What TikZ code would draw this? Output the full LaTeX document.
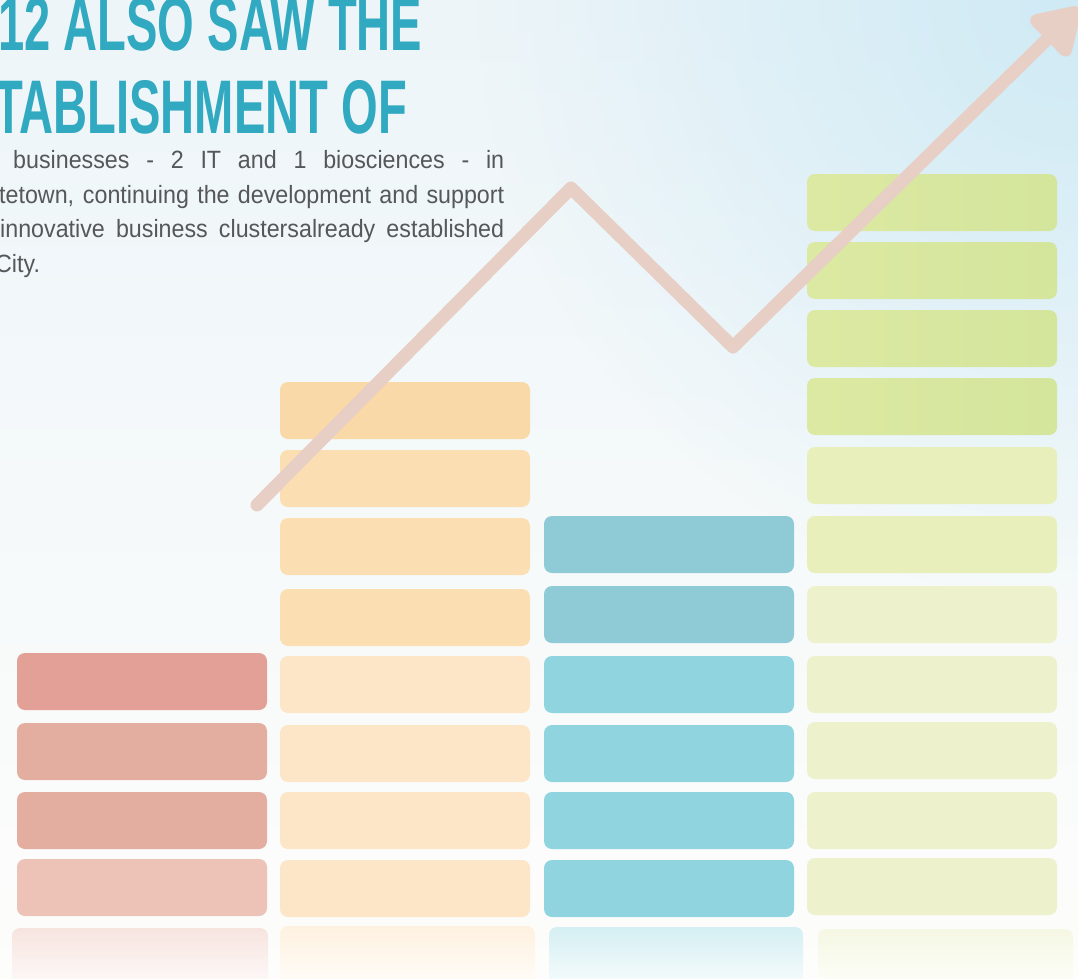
\documentclass[tikz,border=0pt]{standalone}
\usepackage{fontspec}
\setmainfont{Liberation Sans}
\newfontfamily\headfont[FakeStretch=0.62]{Liberation Sans}
\newfontfamily\bodyfont[FakeStretch=0.93]{Liberation Sans}
\usetikzlibrary{arrows.meta,fadings}
\definecolor{titleblue}{HTML}{30A9C1}
\definecolor{bodygray}{HTML}{55575A}
\definecolor{trendc}{HTML}{E7CFC5}
\definecolor{bgtop}{HTML}{EDF5F9}
\definecolor{bgmid}{HTML}{F7FAFB}
\definecolor{bgbot}{HTML}{FDFDFB}
\definecolor{bgblue}{HTML}{CFEAF5}
\definecolor{redA}{HTML}{E2A096}
\definecolor{redB}{HTML}{E3AEA0}
\definecolor{redC}{HTML}{EDC3B8}
\definecolor{orA}{HTML}{FAD9A9}
\definecolor{orB}{HTML}{FBDFB3}
\definecolor{orC}{HTML}{FDE6C7}
\definecolor{blA}{HTML}{8FCAD7}
\definecolor{blB}{HTML}{8FD4DF}
\definecolor{grL}{HTML}{DCE9A2}
\definecolor{grR}{HTML}{D4E59C}
\definecolor{grB}{HTML}{E8EFBA}
\definecolor{grC}{HTML}{EDF2CC}
\tikzfading[name=glow,inner color=transparent!0,outer color=transparent!100]
\begin{document}
\begin{tikzpicture}[x=1pt,y=-1pt,
	bar/.style={rounded corners=8pt},
	mirror/.style={rounded corners=8pt},
	trend/.style={line width=13pt,trendc,line join=round,line cap=round},
	bodyline/.style={anchor=base west,inner sep=0pt,text=bodygray,font=\bodyfont\fontsize{25}{25}\selectfont}]
		\useasboundingbox (0,0) rectangle (1078,979);
		\clip (0,0) rectangle (1078,979);
		\shade[top color=bgtop,middle color=bgmid,bottom color=bgbot] (0,0) rectangle (1078,979);
		\fill[bgblue,path fading=glow] (1078,0) circle (600);
		\node[anchor=base west,inner sep=0pt,text=titleblue,font=\headfont\bfseries\fontsize{76}{76}\selectfont] (title1) at (-2,51) {12 ALSO SAW THE};
		\node[anchor=base west,inner sep=0pt,text=titleblue,font=\headfont\bfseries\fontsize{76}{76}\selectfont] (title2) at (-6,134) {TABLISHMENT OF};
		\node[bodyline] (line1) at (13,168) {\makebox[491pt][s]{businesses - 2 IT and 1 biosciences - in}};
		\node[bodyline] (line2) at (-1,203) {\makebox[505pt][s]{tetown, continuing the development and support}};
		\node[bodyline] (line3) at (0,237) {\makebox[504pt][s]{innovative business clustersalready established}};
		\node[bodyline] (line4) at (-5,272) {City.};
		\foreach \y/\c in {653/redA,723/redB,792/redB,859/redC}
			\fill[bar,\c] (17,\y) rectangle ++(250,57);
		\foreach \y/\c in {382/orA,450/orB,518/orB,589/orB,656/orC,725/orC,792/orC,860/orC}
			\fill[bar,\c] (280,\y) rectangle ++(250,57);
		\foreach \y/\c in {516/blA,586/blA,656/blB,725/blB,792/blB,860/blB}
			\fill[bar,\c] (544,\y) rectangle ++(250,57);
		\foreach \y in {174,242,310,378}
			\shade[bar,left color=grL,right color=grR] (807,\y) rectangle ++(250,57);
		\foreach \y/\c in {447/grB,516/grB,586/grC,656/grC,722/grC,792/grC,858/grC}
			\fill[bar,\c] (807,\y) rectangle ++(250,57);
		\shade[mirror,top color=redC!45!white,bottom color=white] (12,928) rectangle (268,1000);
		\shade[mirror,top color=orC!55!white,bottom color=white] (280,926) rectangle (535,1000);
		\shade[mirror,top color=blB!38!white,bottom color=white] (549,927) rectangle (803,1000);
		\shade[mirror,top color=grC!55!white,bottom color=white] (818,929) rectangle (1073,1000);
		\coordinate (p0) at (257,505);
		\coordinate (p1) at (571,188);
		\coordinate (p2) at (733,347);
		\coordinate (p3) at (1079,8);
		\draw[trend,-{Triangle[length=52pt,width=61pt,round=false]}] (p0)--(p1)--(p2)--(p3);
		\end{tikzpicture}
\end{document}
